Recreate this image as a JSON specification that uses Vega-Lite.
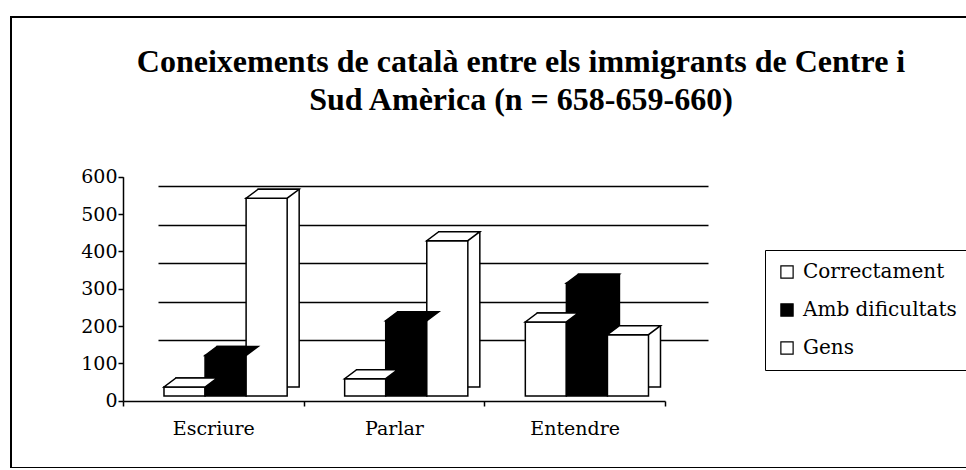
{
  "$schema": "https://vega.github.io/schema/vega-lite/v6.json",
  "width": 960,
  "height": 451,
  "autosize": {"type": "none"},
  "padding": {"left": 11, "top": 17, "right": 0, "bottom": 0},
  "background": "white",
  "config": {
    "view": {"stroke": "black", "strokeWidth": 2},
    "font": "DejaVu Serif",
    "axis": {"labelFont": "DejaVu Serif", "labelFontSize": 19, "labelColor": "black", "domainColor": "black", "domainWidth": 1.5, "tickColor": "black", "tickWidth": 1.5, "tickSize": 5},
    "legend": {
      "orient": "none", "legendX": 754, "legendY": 233,
      "strokeColor": "black", "fillColor": "white", "padding": 12,
      "symbolType": "square", "symbolSize": 150, "symbolStrokeColor": "black", "symbolStrokeWidth": 1.2,
      "labelFont": "DejaVu Serif", "labelFontSize": 20, "labelColor": "black", "rowPadding": 18, "labelOffset": 6
    }
  },
  "title": {
    "text": ["Coneixements de català entre els immigrants de Centre i", "Sud Amèrica (n = 658-659-660)"],
    "font": "Liberation Serif", "fontSize": 32, "fontWeight": "bold", "color": "black",
    "anchor": "middle", "frame": "group", "offset": -125, "baseline": "alphabetic", "lineHeight": 38, "dx": 30
  },
  "data": {
    "values": [
      {"cat": "Escriure", "serie": "Correctament", "value": 24},
      {"cat": "Escriure", "serie": "Amb dificultats", "value": 108},
      {"cat": "Escriure", "serie": "Gens", "value": 526},
      {"cat": "Parlar", "serie": "Correctament", "value": 46},
      {"cat": "Parlar", "serie": "Amb dificultats", "value": 200},
      {"cat": "Parlar", "serie": "Gens", "value": 413},
      {"cat": "Entendre", "serie": "Correctament", "value": 197},
      {"cat": "Entendre", "serie": "Amb dificultats", "value": 300},
      {"cat": "Entendre", "serie": "Gens", "value": 163}
    ]
  },
  "layer": [
    {
      "mark": {"type": "point", "opacity": 0},
      "encoding": {
        "x": {"field": "cat", "type": "nominal", "scale": {"type": "band", "domain": ["Escriure", "Parlar", "Entendre"], "range": [147, 697], "paddingInner": 0, "paddingOuter": 0}, "axis": null},
        "y": {"field": "value", "type": "quantitative", "scale": {"domain": [0, 600], "range": [361.5, 130.5], "nice": false}, "axis": {"orient": "left", "values": [100, 200, 300, 400, 500], "grid": true, "gridColor": "black", "gridWidth": 1.5, "gridOpacity": 1, "labels": false, "ticks": false, "domain": false, "title": null}}
      }
    },
    {
      "mark": {"type": "bar", "stroke": "black", "strokeWidth": 1.5},
      "encoding": {
        "x": {"field": "cat", "type": "nominal", "scale": {"type": "band", "domain": ["Escriure", "Parlar", "Entendre"], "range": [124, 666], "paddingInner": 0, "paddingOuter": 0}, "axis": null},
        "xOffset": {"field": "serie", "type": "nominal", "scale": {"domain": ["Correctament", "Amb dificultats", "Gens"], "paddingInner": 0, "paddingOuter": 0.7, "align": 0.713}},
        "y": {"field": "value", "type": "quantitative", "scale": {"domain": [0, 600], "range": [370, 144.4], "nice": false}, "axis": null},
        "color": {"field": "serie", "type": "nominal", "scale": {"domain": ["Correctament", "Amb dificultats", "Gens"], "range": ["white", "black", "white"]}, "legend": {"title": null, "symbolType": "square"}}
      }
    },
    {
      "mark": {"type": "bar", "stroke": "black", "strokeWidth": 1.5},
      "encoding": {
        "x": {"field": "cat", "type": "nominal", "scale": {"type": "band", "domain": ["Escriure", "Parlar", "Entendre"], "range": [112, 654], "paddingInner": 0, "paddingOuter": 0}, "axis": {"orient": "bottom", "offset": -67, "tickBand": "extent", "labelAngle": 0, "labelPadding": 13, "title": null}},
        "xOffset": {"field": "serie", "type": "nominal", "scale": {"domain": ["Correctament", "Amb dificultats", "Gens"], "paddingInner": 0, "paddingOuter": 0.7, "align": 0.713}},
        "y": {"field": "value", "type": "quantitative", "scale": {"domain": [0, 600], "range": [379, 153.4], "nice": false}, "axis": null},
        "color": {"field": "serie", "type": "nominal", "scale": {"domain": ["Correctament", "Amb dificultats", "Gens"], "range": ["white", "black", "white"]}, "legend": {"title": null, "symbolType": "square"}}
      }
    },
    {
      "mark": {"type": "point", "filled": true, "opacity": 1, "stroke": "black", "strokeWidth": 1.5, "size": 1686, "shape": "M -1 0 L 1 0 L 1.585 -0.438 L -0.415 -0.438 Z"},
      "encoding": {
        "x": {"field": "cat", "type": "nominal", "scale": {"type": "band", "domain": ["Escriure", "Parlar", "Entendre"], "range": [112, 654], "paddingInner": 0, "paddingOuter": 0}, "axis": null},
        "xOffset": {"field": "serie", "type": "nominal", "scale": {"domain": ["Correctament", "Amb dificultats", "Gens"], "paddingInner": 0, "paddingOuter": 0.7, "align": 0.713}},
        "y": {"field": "value", "type": "quantitative", "scale": {"domain": [0, 600], "range": [379, 153.4], "nice": false}, "axis": null},
        "color": {"field": "serie", "type": "nominal", "scale": {"domain": ["Correctament", "Amb dificultats", "Gens"], "range": ["white", "black", "white"]}, "legend": {"title": null, "symbolType": "square"}}
      }
    },
    {
      "mark": {"type": "point", "opacity": 0},
      "encoding": {
        "y": {"field": "value", "type": "quantitative", "scale": {"domain": [0, 600], "range": [383.7, 159.7], "nice": false}, "axis": {"orient": "left", "offset": -112, "values": [0, 100, 200, 300, 400, 500, 600], "grid": false, "labelPadding": 1, "title": null}}
      }
    }
  ],
  "resolve": {"scale": {"x": "independent", "y": "independent"}}
}
